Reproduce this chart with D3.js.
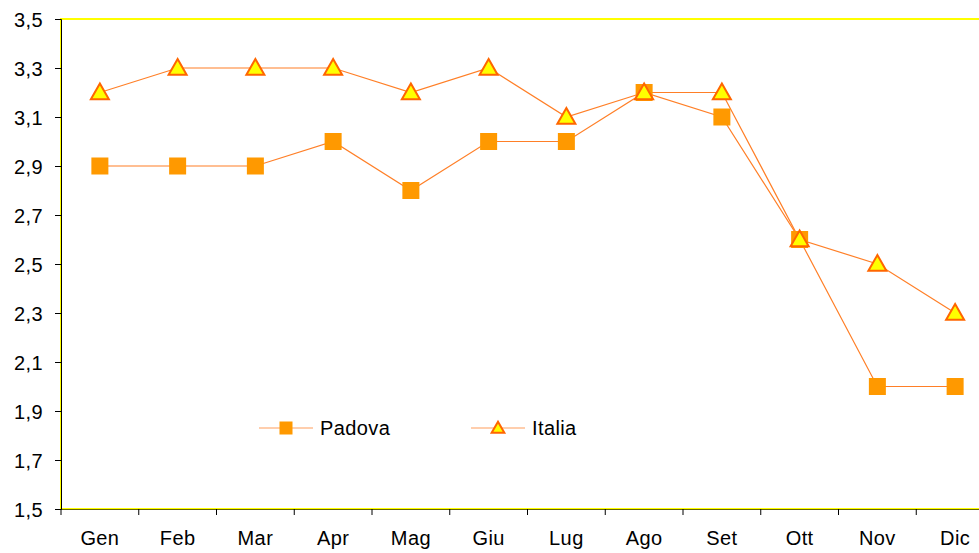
<!DOCTYPE html>
<html>
<head>
<meta charset="utf-8">
<script src="https://cdn.jsdelivr.net/npm/d3@7"></script>
<style>
  body { margin: 0; background: #fff; }
  text { font-family: "Liberation Sans", Arial, sans-serif; fill: #000; letter-spacing: 0.4px; }
</style>
</head>
<body>
<div class="chart"></div>
<script>
const months = ['Gen', 'Feb', 'Mar', 'Apr', 'Mag', 'Giu', 'Lug', 'Ago', 'Set', 'Ott', 'Nov', 'Dic'];
const padova = [2.9, 2.9, 2.9, 3.0, 2.8, 3.0, 3.0, 3.2, 3.1, 2.6, 2.0, 2.0];
const italia = [3.2, 3.3, 3.3, 3.3, 3.2, 3.3, 3.1, 3.2, 3.2, 2.6, 2.5, 2.3];
const yTicks = [1.5, 1.7, 1.9, 2.1, 2.3, 2.5, 2.7, 2.9, 3.1, 3.3, 3.5];

const width = 979,
    height = 553,
    plotLeft = 61,
    plotTop = 19,
    plotBottom = 509,
    step = 77.75,
    fontSize = '20px';

const svg = d3.select('.chart')
    .append('svg')
    .attr('width', width)
    .attr('height', height);

const x = d3.scaleBand()
    .domain(months)
    .range([plotLeft, plotLeft + step * months.length]);

const y = d3.scaleLinear()
    .domain([1.5, 3.5])
    .range([plotBottom, plotTop]);

const fmt = (d) => d3.format('.1f')(d).replace('.', ',');

// plot border (yellow)
svg.append('rect')
    .attr('x', plotLeft)
    .attr('y', plotTop)
    .attr('width', step * months.length)
    .attr('height', plotBottom - plotTop)
    .attr('fill', 'none')
    .attr('stroke', '#ffff00')
    .attr('stroke-width', 2);

// y axis
const yAxis = svg.append('g')
    .attr('transform', `translate(${plotLeft},0)`)
    .call(d3.axisLeft(y).tickValues(yTicks).tickFormat(fmt).tickSize(6).tickPadding(12));
yAxis.select('.domain').attr('stroke', '#000');
yAxis.selectAll('.tick line').attr('stroke', '#000');
yAxis.selectAll('text').style('font-size', fontSize).attr('dy', '0.36em');

// x axis
const xAxis = svg.append('g')
    .attr('transform', `translate(0,${plotBottom})`)
    .call(d3.axisBottom(x).tickSize(0).tickPadding(24));
xAxis.select('.domain').attr('stroke', '#000').attr('stroke-opacity', 0.6);
xAxis.selectAll('text').style('font-size', fontSize).attr('dy', '0.6em');
// category separators
svg.append('g')
    .selectAll('line')
    .data(months)
    .join('line')
    .attr('x1', (d) => x(d))
    .attr('x2', (d) => x(d))
    .attr('y1', plotBottom)
    .attr('y2', plotBottom + 6)
    .attr('stroke', '#000');

const cx = (d, i) => x(months[i]) + x.bandwidth() / 2;
const line = d3.line().x((d, i) => cx(d, i)).y((d) => y(d));

const lineColor = '#ff7f27';

[padova, italia].forEach((vals) => {
    svg.append('path')
        .datum(vals)
        .attr('d', line)
        .attr('fill', 'none')
        .attr('stroke', lineColor)
        .attr('stroke-width', 1.2);
});

const sq = 17;
function square(g, px, py) {
    g.append('rect')
        .attr('x', px - sq / 2)
        .attr('y', py - sq / 2)
        .attr('width', sq)
        .attr('height', sq)
        .attr('fill', '#ff9900');
}
const tri = d3.symbol().type(d3.symbolTriangle).size(140);
function triangle(g, px, py) {
    g.append('path')
        .attr('d', tri())
        .attr('transform', `translate(${px},${py + 1.5})`)
        .attr('fill', '#ffff00')
        .attr('stroke', '#ff6600')
        .attr('stroke-width', 2);
}

const marks = svg.append('g');
padova.forEach((v, i) => square(marks, cx(v, i), y(v)));
italia.forEach((v, i) => triangle(marks, cx(v, i), y(v)));

// legend
const legend = svg.append('g');
[{ name: 'Padova', x0: 259, draw: square }, { name: 'Italia', x0: 471, draw: triangle }].forEach((s) => {
    legend.append('line')
        .attr('x1', s.x0).attr('x2', s.x0 + 54)
        .attr('y1', 428).attr('y2', 428)
        .attr('stroke', lineColor)
        .attr('stroke-opacity', 0.75)
        .attr('stroke-width', 1.2);
    if (s.draw === square) {
        legend.append('rect')
            .attr('x', s.x0 + 27 - 6.5).attr('y', 428 - 6.5)
            .attr('width', 13).attr('height', 13)
            .attr('fill', '#ff9900');
    } else {
        legend.append('path')
            .attr('d', d3.symbol().type(d3.symbolTriangle).size(70)())
            .attr('transform', `translate(${s.x0 + 27},${429})`)
            .attr('fill', '#ffff00')
            .attr('stroke', '#ff6600')
            .attr('stroke-width', 2);
    }
    legend.append('text')
        .attr('x', s.x0 + 61)
        .attr('y', 428)
        .attr('dy', '0.36em')
        .style('font-size', fontSize)
        .text(s.name);
});
</script>
</body>
</html>
